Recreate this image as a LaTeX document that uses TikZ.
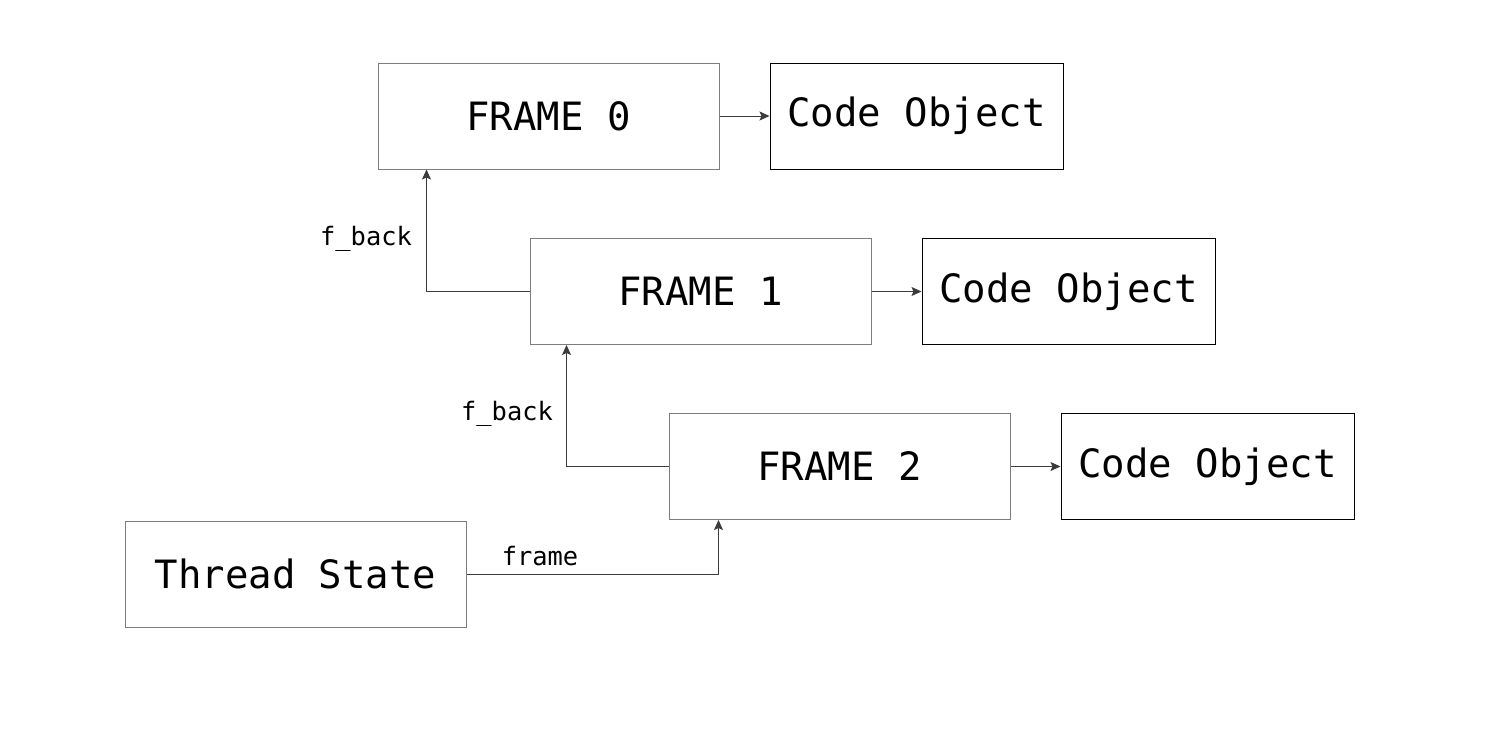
\documentclass[tikz,border=0pt]{standalone}
\usepackage{fontspec}
\setmonofont{DejaVu Sans Mono}
\usetikzlibrary{arrows.meta}
\definecolor{boxgray}{RGB}{125,125,125}
\definecolor{linegray}{RGB}{60,60,60}
\begin{document}
\begin{tikzpicture}[x=0.5pt,y=-0.5pt,
  fbox/.style={draw=boxgray,line width=0.5pt,minimum width=170.5pt,minimum height=53pt,inner sep=0pt,font=\ttfamily\fontsize{19.5}{22}\selectfont},
  cbox/.style={draw=black,line width=0.5pt,minimum width=146.5pt,minimum height=53pt,inner sep=0pt,font=\ttfamily\fontsize{19.5}{22}\selectfont},
  arr/.style={draw=linegray,line width=0.5pt,-{Stealth[length=5pt,width=4.5pt,inset=1pt]}},
  lbl/.style={font=\ttfamily\fontsize{12.7}{14}\selectfont,inner sep=0pt}]
\useasboundingbox[fill=white] (0,0) rectangle (1486,728);
\node[fbox] (f0) at (548.5,116) {FRAME 0};
\node[cbox] (c0) at (916.5,116) {Code Object};
\node[fbox] (f1) at (700.5,291.5) {FRAME 1};
\node[cbox] (c1) at (1068.5,291.5) {Code Object};
\node[fbox] (f2) at (839.5,466.5) {FRAME 2};
\node[cbox] (c2) at (1207.5,466.5) {Code Object};
\node[fbox] (ts) at (295.5,574) {Thread State};
\draw[arr] (f0.east) -- (c0.west);
\draw[arr] (f1.east) -- (c1.west);
\draw[arr] (f2.east) -- (c2.west);
\draw[arr] (f1.west) -| ([xshift=24.5pt]f0.south west);
\draw[arr] (f2.west) -| ([xshift=18.5pt]f1.south west);
\draw[arr] (ts.east) -| ([xshift=25pt]f2.south west);
\node[lbl] (l1) at (366,239) {f\_back};
\node[lbl] (l2) at (507,414) {f\_back};
\node[lbl] (l3) at (540,556) {frame};
\end{tikzpicture}
\end{document}
